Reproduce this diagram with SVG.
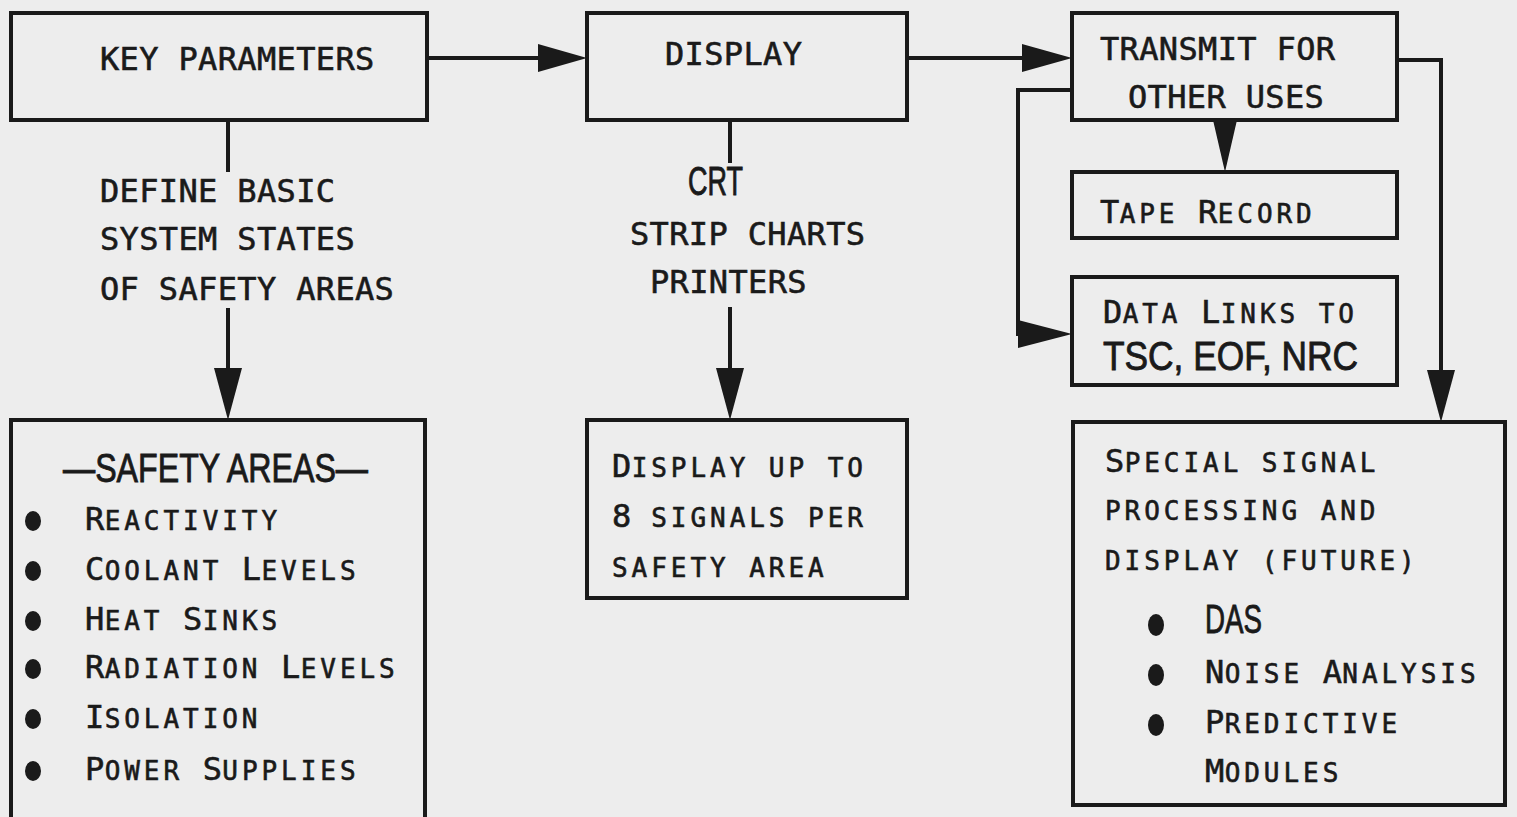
<svg xmlns="http://www.w3.org/2000/svg" width="1517" height="817" viewBox="0 0 1517 817">
<style>
.bg{fill:#ededed}
.box{fill:none;stroke:#1a1a1a;stroke-width:4}
.ln{fill:none;stroke:#1a1a1a;stroke-width:4}
.ah{fill:#1a1a1a;stroke:none}
.t{font-family:"DejaVu Sans Mono",monospace;font-size:32px;letter-spacing:0.35px;fill:#1a1a1a;stroke:#1a1a1a;stroke-width:0.6}
.s{font-size:26px;letter-spacing:3.95px}
.n{font-family:"Liberation Sans",Arial,sans-serif;font-size:41px;fill:#1a1a1a;stroke:#1a1a1a;stroke-width:0.9}
.dot{fill:#1a1a1a}
</style>
<rect class="bg" x="0" y="0" width="1517" height="817"/>

<g id="connectors">
  <line class="ln" x1="427" y1="58" x2="545" y2="58"/>
  <polygon class="ah" points="538,44 587,58 538,72"/>
  <line class="ln" x1="907" y1="58" x2="1028" y2="58"/>
  <polygon class="ah" points="1022,44 1072,58 1022,72"/>
  <line class="ln" x1="228" y1="120" x2="228" y2="172"/>
  <line class="ln" x1="228" y1="308" x2="228" y2="372"/>
  <polygon class="ah" points="214,368 242,368 228,420"/>
  <line class="ln" x1="730" y1="120" x2="730" y2="163"/>
  <line class="ln" x1="730" y1="307" x2="730" y2="372"/>
  <polygon class="ah" points="716,368 744,368 730,420"/>
  <polygon class="ah" points="1213,120 1237,120 1225,172"/>
  <polyline class="ln" points="1072,90 1018,90 1018,334 1030,334"/>
  <polygon class="ah" points="1018,320 1072,334 1018,348"/>
  <polyline class="ln" points="1397,60 1441,60 1441,375"/>
  <polygon class="ah" points="1427,370 1455,370 1441,422"/>
</g>

<g id="key-parameters">
  <rect class="box" x="11" y="13" width="416" height="107"/>
  <text class="t" x="100" y="70">KEY PARAMETERS</text>
</g>

<g id="define-label">
  <text class="t" x="100" y="202">DEFINE BASIC</text>
  <text class="t" x="100" y="250">SYSTEM STATES</text>
  <text class="t" x="100" y="300">OF SAFETY AREAS</text>
</g>

<g id="display">
  <rect class="box" x="587" y="13" width="320" height="107"/>
  <text class="t" x="665" y="65">DISPLAY</text>
</g>

<g id="display-label">
  <text class="n" x="688" y="195" textLength="55" lengthAdjust="spacingAndGlyphs">CRT</text>
  <text class="t" x="630" y="245">STRIP CHARTS</text>
  <text class="t" x="650" y="293">PRINTERS</text>
</g>

<g id="transmit">
  <rect class="box" x="1072" y="13" width="325" height="107"/>
  <text class="t" x="1100" y="60">TRANSMIT FOR</text>
  <text class="t" x="1128" y="108">OTHER USES</text>
</g>

<g id="tape-record">
  <rect class="box" x="1072" y="172" width="325" height="66"/>
  <text class="t" x="1100" y="223">T<tspan class="s">APE </tspan>R<tspan class="s">ECORD</tspan></text>
</g>

<g id="data-links">
  <rect class="box" x="1072" y="277" width="325" height="108"/>
  <text class="t" x="1103" y="323">D<tspan class="s">ATA </tspan>L<tspan class="s">INKS TO</tspan></text>
  <text class="n" x="1103" y="370" textLength="255" lengthAdjust="spacingAndGlyphs">TSC, EOF, NRC</text>
</g>

<g id="safety-areas">
  <rect class="box" x="11" y="420" width="414" height="420"/>
  <text class="n" x="63" y="482" textLength="305" lengthAdjust="spacingAndGlyphs">—SAFETY AREAS—</text>
  <ellipse class="dot" cx="33" cy="521" rx="8" ry="10"/>
  <text class="t" x="85" y="530">R<tspan class="s">EACTIVITY</tspan></text>
  <ellipse class="dot" cx="33" cy="571" rx="8" ry="10"/>
  <text class="t" x="85" y="580">C<tspan class="s">OOLANT </tspan>L<tspan class="s">EVELS</tspan></text>
  <ellipse class="dot" cx="33" cy="621" rx="8" ry="10"/>
  <text class="t" x="85" y="630">H<tspan class="s">EAT </tspan>S<tspan class="s">INKS</tspan></text>
  <ellipse class="dot" cx="33" cy="669" rx="8" ry="10"/>
  <text class="t" x="85" y="678">R<tspan class="s">ADIATION </tspan>L<tspan class="s">EVELS</tspan></text>
  <ellipse class="dot" cx="33" cy="719" rx="8" ry="10"/>
  <text class="t" x="85" y="728">I<tspan class="s">SOLATION</tspan></text>
  <ellipse class="dot" cx="33" cy="771" rx="8" ry="10"/>
  <text class="t" x="85" y="780">P<tspan class="s">OWER </tspan>S<tspan class="s">UPPLIES</tspan></text>
</g>

<g id="display-up-to">
  <rect class="box" x="587" y="420" width="320" height="178"/>
  <text class="t" x="612" y="477">D<tspan class="s">ISPLAY UP TO</tspan></text>
  <text class="t" x="612" y="527">8<tspan class="s"> SIGNALS PER</tspan></text>
  <text class="t" x="612" y="577"><tspan class="s">SAFETY AREA</tspan></text>
</g>

<g id="special-signal">
  <rect class="box" x="1073" y="422" width="432" height="383"/>
  <text class="t" x="1105" y="472">S<tspan class="s">PECIAL SIGNAL</tspan></text>
  <text class="t" x="1105" y="520"><tspan class="s">PROCESSING AND</tspan></text>
  <text class="t" x="1105" y="570"><tspan class="s">DISPLAY (FUTURE)</tspan></text>
  <ellipse class="dot" cx="1156" cy="625" rx="8" ry="11"/>
  <text class="n" x="1205" y="633" textLength="57" lengthAdjust="spacingAndGlyphs">DAS</text>
  <ellipse class="dot" cx="1156" cy="675" rx="8" ry="11"/>
  <text class="t" x="1205" y="683">N<tspan class="s">OISE </tspan>A<tspan class="s">NALYSIS</tspan></text>
  <ellipse class="dot" cx="1156" cy="725" rx="8" ry="11"/>
  <text class="t" x="1205" y="733">P<tspan class="s">REDICTIVE</tspan></text>
  <text class="t" x="1205" y="782">M<tspan class="s">ODULES</tspan></text>
</g>
</svg>
